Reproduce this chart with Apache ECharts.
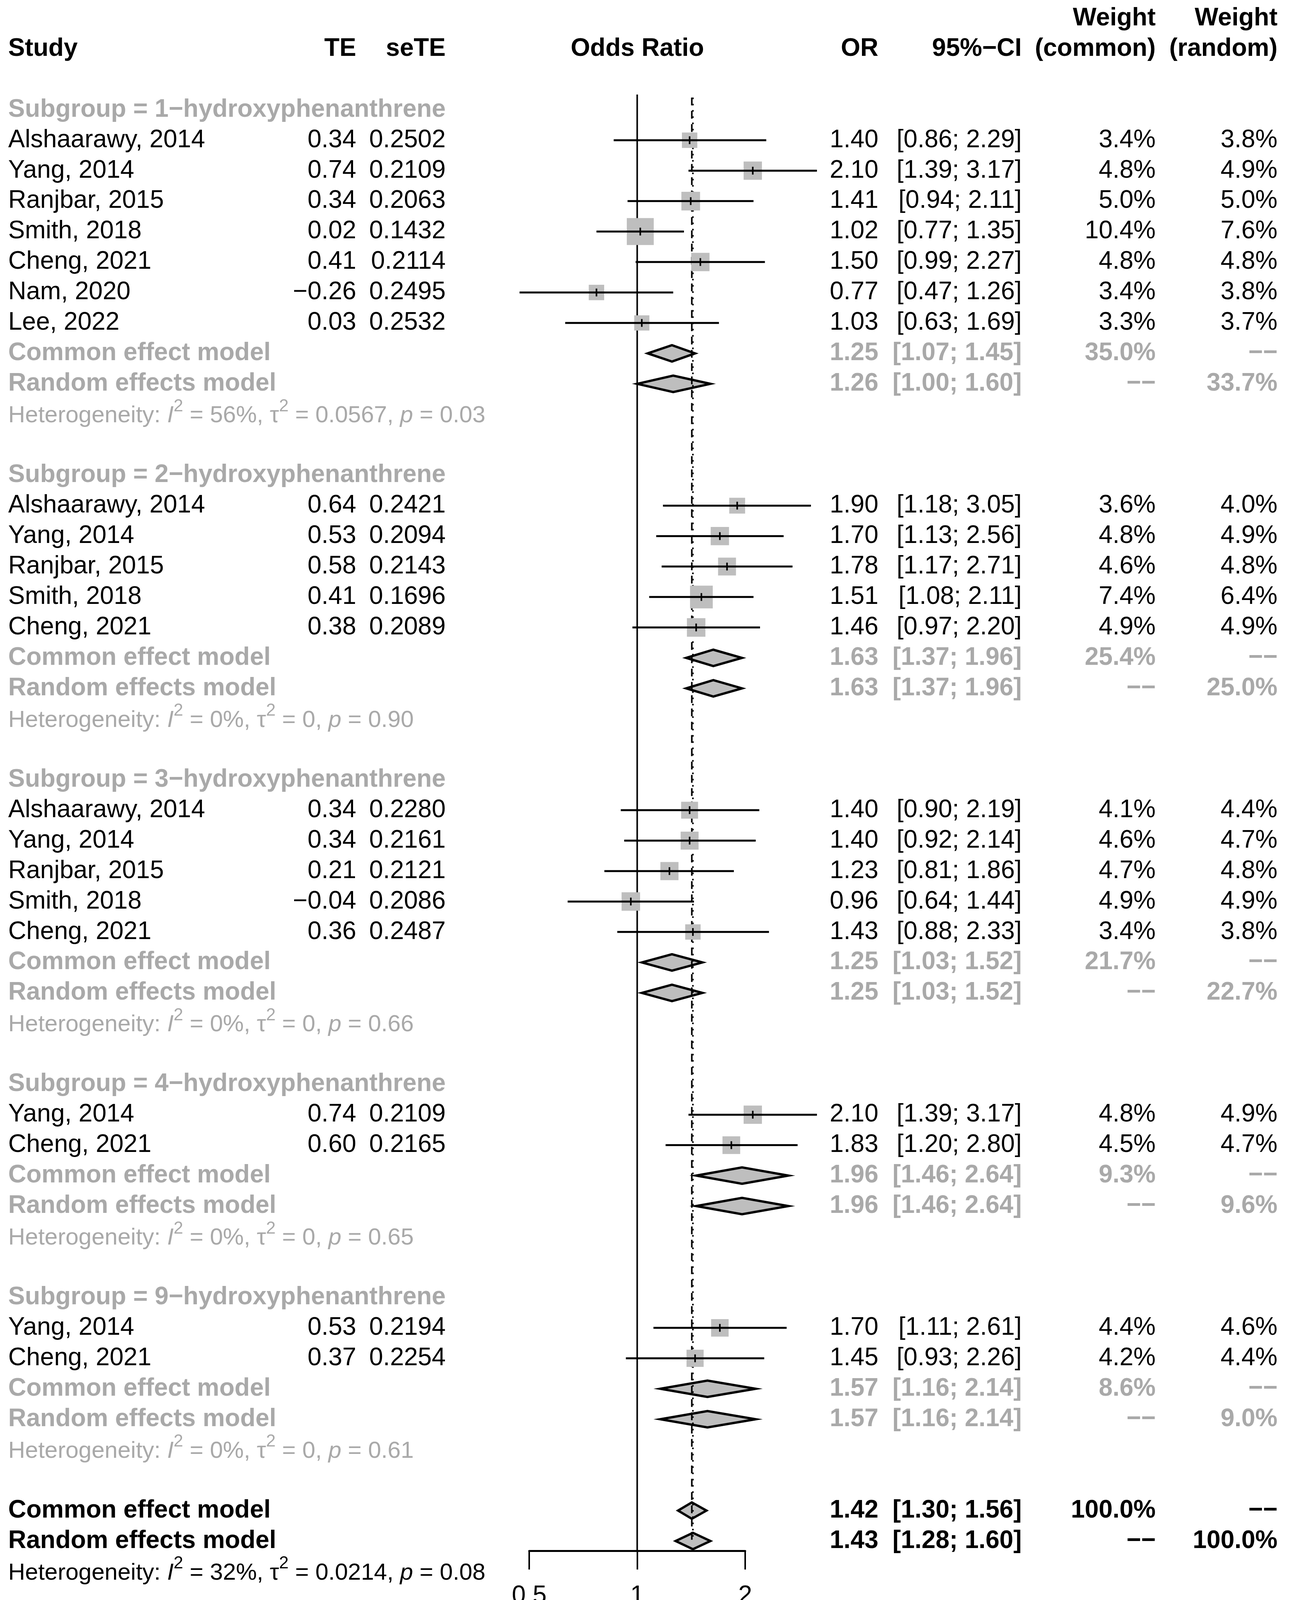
<!DOCTYPE html>
<html><head><meta charset="utf-8">
<script src="https://cdn.jsdelivr.net/npm/echarts@6/dist/echarts.min.js"></script>
<style>html,body{margin:0;padding:0;background:#fff}#c{width:3303px;height:4118px}</style>
</head><body><div id="c"></div><script>
// ---------------- data ----------------
const subgroupNames = ['1−hydroxyphenanthrene','2−hydroxyphenanthrene','3−hydroxyphenanthrene','4−hydroxyphenanthrene','9−hydroxyphenanthrene'];
const studySubgroup = [0,0,0,0,0,0,0, 1,1,1,1,1, 2,2,2,2,2, 3,3, 4,4];
const studyLabels = ['Alshaarawy, 2014','Yang, 2014','Ranjbar, 2015','Smith, 2018','Cheng, 2021','Nam, 2020','Lee, 2022',
  'Alshaarawy, 2014','Yang, 2014','Ranjbar, 2015','Smith, 2018','Cheng, 2021',
  'Alshaarawy, 2014','Yang, 2014','Ranjbar, 2015','Smith, 2018','Cheng, 2021',
  'Yang, 2014','Cheng, 2021',
  'Yang, 2014','Cheng, 2021'];
const studyTE = [0.34,0.74,0.34,0.02,0.41,-0.26,0.03, 0.64,0.53,0.58,0.41,0.38, 0.34,0.34,0.21,-0.04,0.36, 0.74,0.60, 0.53,0.37];
const studySeTE = [0.2502,0.2109,0.2063,0.1432,0.2114,0.2495,0.2532, 0.2421,0.2094,0.2143,0.1696,0.2089, 0.2280,0.2161,0.2121,0.2086,0.2487, 0.2109,0.2165, 0.2194,0.2254];
const studyOR = [1.40,2.10,1.41,1.02,1.50,0.77,1.03, 1.90,1.70,1.78,1.51,1.46, 1.40,1.40,1.23,0.96,1.43, 2.10,1.83, 1.70,1.45];
const studyLower = [0.86,1.39,0.94,0.77,0.99,0.47,0.63, 1.18,1.13,1.17,1.08,0.97, 0.90,0.92,0.81,0.64,0.88, 1.39,1.20, 1.11,0.93];
const studyUpper = [2.29,3.17,2.11,1.35,2.27,1.26,1.69, 3.05,2.56,2.71,2.11,2.20, 2.19,2.14,1.86,1.44,2.33, 3.17,2.80, 2.61,2.26];
const studyWCommon = [3.4,4.8,5.0,10.4,4.8,3.4,3.3, 3.6,4.8,4.6,7.4,4.9, 4.1,4.6,4.7,4.9,3.4, 4.8,4.5, 4.4,4.2];
const studyWRandom = [3.8,4.9,5.0,7.6,4.8,3.8,3.7, 4.0,4.9,4.8,6.4,4.9, 4.4,4.7,4.8,4.9,3.8, 4.9,4.7, 4.6,4.4];

const sgCommonOR = [1.25,1.63,1.25,1.96,1.57];
const sgCommonLower = [1.07,1.37,1.03,1.46,1.16];
const sgCommonUpper = [1.45,1.96,1.52,2.64,2.14];
const sgCommonW = [35.0,25.4,21.7,9.3,8.6];
const sgRandomOR = [1.26,1.63,1.25,1.96,1.57];
const sgRandomLower = [1.00,1.37,1.03,1.46,1.16];
const sgRandomUpper = [1.60,1.96,1.52,2.64,2.14];
const sgRandomW = [33.7,25.0,22.7,9.6,9.0];
const sgI2 = ['56%','0%','0%','0%','0%'];
const sgTau2 = ['0.0567','0','0','0','0'];
const sgP = ['0.03','0.90','0.66','0.65','0.61'];

const overallCommon = [1.42,1.30,1.56];   // OR, lower, upper
const overallRandom = [1.43,1.28,1.60];
const overallWeight = [100.0,100.0];
const overallHet = ['32%','0.0214','0.08'];
const refValue = 1;
const xTicks = [0.5,1,2];

// ---------------- layout / style ----------------
const FONT = '"Liberation Sans", Arial, Helvetica, sans-serif';
const FS = 64, HFS = 60;
const GRAY = '#a9a9a9', FILL = '#bebebe';
const COL = {study:21, te:912, se:1141, plot:1632, or:2249, ci:2616, wc:2959, wr:3271};
const Y_MIN = -0.5, Y_MAX = 47.32;
const DASH = '−−';

const fmt2 = v => v.toFixed(2).replace('-', '−');
const fmtW = v => v.toFixed(1) + '%';
const fmtCI = (l,u) => '[' + l.toFixed(2) + '; ' + u.toFixed(2) + ']';

// build row table
const textRows = [];
const studyData = [];
const diamondData = [];
textRows.push({row:-3, cells:[[COL.wc,'right','Weight'],[COL.wr,'right','Weight']], bold:true, color:'#000'});
textRows.push({row:-2, cells:[[COL.study,'left','Study'],[COL.te,'right','TE'],[COL.se,'right','seTE'],
  [COL.plot,'center','Odds Ratio'],[COL.or,'right','OR'],[COL.ci,'right','95%−CI'],
  [COL.wc,'right','(common)'],[COL.wr,'right','(random)']], bold:true, color:'#000'});
let r = 0;
subgroupNames.forEach((name, g) => {
  textRows.push({row:r++, cells:[[COL.study,'left','Subgroup = ' + name]], bold:true, color:GRAY});
  studyLabels.forEach((lab, i) => {
    if (studySubgroup[i] !== g) return;
    textRows.push({row:r, cells:[[COL.study,'left',lab],[COL.te,'right',fmt2(studyTE[i])],[COL.se,'right',studySeTE[i].toFixed(4)],
      [COL.or,'right',fmt2(studyOR[i])],[COL.ci,'right',fmtCI(studyLower[i],studyUpper[i])],
      [COL.wc,'right',fmtW(studyWCommon[i])],[COL.wr,'right',fmtW(studyWRandom[i])]], bold:false, color:'#000'});
    studyData.push([studyOR[i], studyLower[i], studyUpper[i], r, studyWCommon[i]]);
    r++;
  });
  textRows.push({row:r, cells:[[COL.study,'left','Common effect model'],[COL.or,'right',fmt2(sgCommonOR[g])],
    [COL.ci,'right',fmtCI(sgCommonLower[g],sgCommonUpper[g])],[COL.wc,'right',fmtW(sgCommonW[g])],[COL.wr,'right',DASH]], bold:true, color:GRAY});
  diamondData.push([sgCommonLower[g], sgCommonOR[g], sgCommonUpper[g], r]); r++;
  textRows.push({row:r, cells:[[COL.study,'left','Random effects model'],[COL.or,'right',fmt2(sgRandomOR[g])],
    [COL.ci,'right',fmtCI(sgRandomLower[g],sgRandomUpper[g])],[COL.wc,'right',DASH],[COL.wr,'right',fmtW(sgRandomW[g])]], bold:true, color:GRAY});
  diamondData.push([sgRandomLower[g], sgRandomOR[g], sgRandomUpper[g], r]); r++;
  textRows.push({row:r++, het:[sgI2[g], sgTau2[g], sgP[g]], color:GRAY});
  r++;
});
textRows.push({row:r, cells:[[COL.study,'left','Common effect model'],[COL.or,'right',fmt2(overallCommon[0])],
  [COL.ci,'right',fmtCI(overallCommon[1],overallCommon[2])],[COL.wc,'right',fmtW(overallWeight[0])],[COL.wr,'right',DASH]], bold:true, color:'#000'});
diamondData.push([overallCommon[1], overallCommon[0], overallCommon[2], r]); r++;
textRows.push({row:r, cells:[[COL.study,'left','Random effects model'],[COL.or,'right',fmt2(overallRandom[0])],
  [COL.ci,'right',fmtCI(overallRandom[1],overallRandom[2])],[COL.wc,'right',DASH],[COL.wr,'right',fmtW(overallWeight[1])]], bold:true, color:'#000'});
diamondData.push([overallRandom[1], overallRandom[0], overallRandom[2], r]); r++;
textRows.push({row:r++, het:overallHet, color:'#000'});
const lastRow = r - 2; // overall random row

const chart = echarts.init(document.getElementById('c'), null, {renderer:'canvas'});
chart.setOption({
  animation:false,
  backgroundColor:'#fff',
  grid:{left:1355, right:1395, top:242, height:3730},
  xAxis:{type:'log', logBase:2, min:xTicks[0], max:xTicks[xTicks.length-1], position:'bottom',
    axisLine:{show:true, onZero:false, lineStyle:{color:'#000', width:5}},
    axisTick:{show:true, length:48, lineStyle:{color:'#000', width:4}},
    axisLabel:{show:true, fontSize:FS, fontFamily:FONT, color:'#000', margin:84,
      formatter: v => String(Math.round(v*100)/100)},
    splitLine:{show:false}},
  yAxis:{type:'value', inverse:true, min:Y_MIN, max:Y_MAX, show:false},
  series:[
    { type:'custom', z:1, clip:false, data:[[refValue, 0]], encode:{x:0, y:1},
      renderItem:(p, api) => {
        const a = api.coord([api.value(0), Y_MIN]), b = api.coord([api.value(0), Y_MAX]);
        return {type:'line', shape:{x1:a[0], y1:a[1], x2:b[0], y2:b[1]}, style:{stroke:'#000', lineWidth:4}};
      }},
    { type:'custom', z:2, clip:false, data:diamondData, encode:{x:1, y:3},
      renderItem:(p, api) => {
        const row = api.value(3);
        const lo = api.coord([api.value(0), row]), e = api.coord([api.value(1), row]), up = api.coord([api.value(2), row]);
        const h = 21;
        return {type:'polygon', shape:{points:[[lo[0],lo[1]],[e[0],e[1]-h],[up[0],up[1]],[e[0],e[1]+h]]},
          style:{fill:FILL, stroke:'#000', lineWidth:6, lineJoin:'miter'}};
      }},
    { type:'custom', z:3, clip:false, data:[[overallCommon[0], 0], [overallRandom[0], 1]], encode:{x:0},
      renderItem:(p, api) => {
        const a = api.coord([api.value(0), -0.4]), b = api.coord([api.value(0), lastRow]);
        const dash = api.value(1) === 0 ? [20,14] : [4,12];
        return {type:'line', shape:{x1:a[0], y1:a[1], x2:b[0], y2:b[1]}, style:{stroke:'#000', lineWidth:4, lineDash:dash}};
      }},
    { type:'custom', z:4, clip:false, data:studyData, encode:{x:0, y:3},
      renderItem:(p, api) => {
        const row = api.value(3);
        const c = api.coord([api.value(0), row]), l = api.coord([api.value(1), row]), u = api.coord([api.value(2), row]);
        const s = 69 * Math.sqrt(api.value(4) / 10.4);
        return {type:'group', children:[
          {type:'rect', shape:{x:c[0]-s/2, y:c[1]-s/2, width:s, height:s}, style:{fill:FILL}},
          {type:'line', shape:{x1:l[0], y1:l[1], x2:u[0], y2:u[1]}, style:{stroke:'#000', lineWidth:5}},
          {type:'line', shape:{x1:c[0], y1:c[1]-10, x2:c[0], y2:c[1]+10}, style:{stroke:'#000', lineWidth:4}}
        ]};
      }},
    { type:'custom', z:5, clip:false, data:textRows.map(t => [1, t.row]), encode:{x:0, y:1},
      renderItem:(p, api) => {
        const t = textRows[p.dataIndex];
        const y = api.coord([1, api.value(1)])[1];
        if (t.het) {
          const base = {fontFamily:FONT, fontSize:HFS, lineHeight:92, fill:t.color};
          return {type:'text', style:{
            x:COL.study, y:y + 4, align:'left', verticalAlign:'middle', fill:t.color, fontFamily:FONT, fontSize:HFS,
            text:'{n|Heterogeneity: }{i|I}{s|2}{n| = ' + t.het[0] + ', τ}{s|2}{n| = ' + t.het[1] + ', }{i|p}{n| = ' + t.het[2] + '}',
            rich:{
              n:base,
              i:Object.assign({}, base, {fontStyle:'italic'}),
              s:{fontFamily:FONT, fontSize:44, lineHeight:44, verticalAlign:'top', fill:t.color}
            }}};
        }
        return {type:'group', children:t.cells.map(c => ({type:'text', style:{
          x:c[0], y:y, text:c[2], align:c[1], textAlign:c[1], verticalAlign:'middle',
          fontFamily:FONT, fontSize:FS, fontWeight:t.bold ? 'bold' : 'normal', fill:t.color}}))};
      }}
  ]
});
</script></body></html>
